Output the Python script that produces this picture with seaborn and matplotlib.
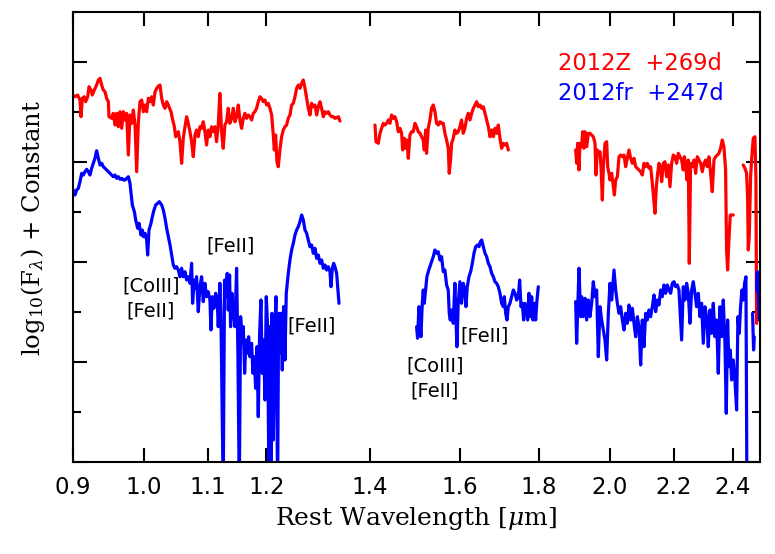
import matplotlib
matplotlib.use("Agg")
import matplotlib.pyplot as plt
import seaborn as sns
from matplotlib.ticker import FixedLocator, NullLocator, MultipleLocator

# ---------------- spectra (wavelength in micron, log flux + offset) ----------------
red1_wave = [0.900, 0.9031, 0.9066, 0.9098, 0.9112, 0.9130, 0.9157, 0.9175, 0.9203, 0.9221,
             0.9248, 0.9266, 0.9294, 0.9326, 0.9350, 0.9373, 0.9396, 0.9419, 0.9443, 0.9466,
             0.9490, 0.9499, 0.9537, 0.9560, 0.9584, 0.9608, 0.9632, 0.9656, 0.9680, 0.9704,
             0.9728, 0.9752, 0.9776, 0.9800, 0.9825, 0.9849, 0.9874, 0.9898, 0.9923, 0.9947,
             0.9972, 0.9997, 1.0022, 1.0046, 1.0071, 1.0096, 1.0121, 1.0146, 1.0172, 1.0212,
             1.0247, 1.0273, 1.0298, 1.0324, 1.0349, 1.0375, 1.0416, 1.0437, 1.0468, 1.0489,
             1.0530, 1.0556, 1.0582, 1.0608, 1.0635, 1.0661, 1.0687, 1.0714, 1.0740, 1.0767,
             1.0794, 1.0820, 1.0847, 1.0874, 1.0901, 1.0928, 1.0955, 1.0982, 1.1009, 1.1037,
             1.1064, 1.1091, 1.1119, 1.1146, 1.1174, 1.1201, 1.1229, 1.1257, 1.1285, 1.1313,
             1.1341, 1.1369, 1.1399, 1.1427, 1.1455, 1.1483, 1.1512, 1.1540, 1.1569, 1.1598,
             1.1626, 1.1655, 1.1684, 1.1713, 1.1742, 1.1771, 1.1800, 1.1830, 1.1859, 1.1888,
             1.1918, 1.1947, 1.1977, 1.2007, 1.2037, 1.2067, 1.2097, 1.2127, 1.2145, 1.2169,
             1.2193, 1.2217, 1.2247, 1.2278, 1.2308, 1.2339, 1.2369, 1.2400, 1.2431, 1.2462,
             1.2493, 1.2524, 1.2555, 1.2586, 1.2617, 1.2649, 1.2680, 1.2712, 1.2743, 1.2775,
             1.2806, 1.2838, 1.2870, 1.2902, 1.2934, 1.2966, 1.2998, 1.3030, 1.3063, 1.3095,
             1.3128, 1.3160, 1.3193, 1.3226, 1.3259, 1.3291, 1.3324, 1.3358, 1.3391]
red1_flux = [3.67, 3.653, 3.67, 3.62, 3.453, 3.637, 3.653, 3.603, 3.653, 3.753,
             3.72, 3.67, 3.72, 3.77, 3.82, 3.837, 3.77, 3.72, 3.703, 3.637,
             3.603, 3.453, 3.437, 3.487, 3.37, 3.487, 3.353, 3.503, 3.337, 3.503,
             3.42, 3.487, 3.07, 3.47, 3.387, 3.52, 3.37, 2.903, 3.403, 3.603,
             3.62, 3.503, 3.57, 3.503, 3.637, 3.603, 3.653, 3.57, 3.703, 3.753,
             3.77, 3.637, 3.57, 3.537, 3.603, 3.57, 3.503, 3.437, 3.353, 3.253,
             3.303, 3.203, 2.987, 3.237, 3.353, 3.453, 3.387, 3.303, 3.203, 3.053,
             3.27, 3.32, 3.253, 3.353, 3.337, 3.403, 3.303, 3.17, 3.32, 3.253,
             3.353, 3.303, 3.353, 3.203, 3.37, 3.687, 3.303, 3.137, 3.37, 3.403,
             3.537, 3.387, 3.437, 3.537, 3.403, 3.453, 3.57, 3.42, 3.337, 3.437,
             3.487, 3.437, 3.47, 3.453, 3.42, 3.487, 3.503, 3.537, 3.603, 3.653,
             3.637, 3.603, 3.62, 3.57, 3.587, 3.537, 3.47, 3.27, 3.12, 3.27,
             3.003, 2.953, 3.12, 3.253, 3.32, 3.353, 3.37, 3.437, 3.47, 3.57,
             3.587, 3.653, 3.737, 3.77, 3.737, 3.787, 3.82, 3.737, 3.637, 3.537,
             3.47, 3.587, 3.553, 3.57, 3.47, 3.553, 3.603, 3.537, 3.453, 3.503,
             3.487, 3.503, 3.47, 3.453, 3.453, 3.437, 3.443, 3.453, 3.41]

red2_wave = [1.4106, 1.4127, 1.4176, 1.4211, 1.4246, 1.4281, 1.4317, 1.4352, 1.4388, 1.4423,
             1.4459, 1.4495, 1.4531, 1.4567, 1.4603, 1.4640, 1.4676, 1.4698, 1.4734, 1.4764,
             1.4793, 1.4822, 1.4858, 1.4895, 1.4932, 1.4969, 1.5006, 1.5043, 1.5081, 1.5118,
             1.5155, 1.5178, 1.5208, 1.5230, 1.5268, 1.5306, 1.5344, 1.5382, 1.5421, 1.5459,
             1.5497, 1.5536, 1.5574, 1.5613, 1.5651, 1.5690, 1.5729, 1.5752, 1.5783, 1.5807,
             1.5846, 1.5885, 1.5925, 1.5964, 1.6004, 1.6043, 1.6083, 1.6123, 1.6164, 1.6205,
             1.6245, 1.6286, 1.6326, 1.6367, 1.6407, 1.6448, 1.6489, 1.6530, 1.6571, 1.6612,
             1.6653, 1.6694, 1.6736, 1.6777, 1.6819, 1.6860, 1.6902, 1.6944, 1.6986, 1.7028,
             1.7070, 1.7113, 1.7155, 1.7198]
red2_flux = [3.37, 3.203, 3.187, 3.287, 3.337, 3.387, 3.37, 3.387, 3.42, 3.387,
             3.47, 3.437, 3.453, 3.403, 3.303, 3.337, 3.287, 3.12, 3.237, 3.137,
             3.22, 3.037, 3.27, 3.303, 3.303, 3.387, 3.353, 3.303, 3.287, 3.253,
             3.22, 3.12, 3.32, 3.087, 3.337, 3.42, 3.537, 3.57, 3.503, 3.387,
             3.37, 3.403, 3.387, 3.387, 3.287, 3.22, 3.137, 2.887, 3.02, 3.187,
             3.237, 3.32, 3.287, 3.303, 3.353, 3.42, 3.287, 3.337, 3.437, 3.487,
             3.42, 3.487, 3.537, 3.57, 3.603, 3.553, 3.57, 3.537, 3.553, 3.487,
             3.42, 3.353, 3.253, 3.32, 3.253, 3.337, 3.287, 3.37, 3.237, 3.137,
             3.187, 3.17, 3.187, 3.12]

red3_wave = [1.9009, 1.9037, 1.9065, 1.9103, 1.9131, 1.9179, 1.9207, 1.9245, 1.9274, 1.9322,
             1.9370, 1.9418, 1.9466, 1.9514, 1.9563, 1.9592, 1.9631, 1.9660, 1.9709, 1.9738,
             1.9778, 1.9807, 1.9856, 1.9905, 1.9935, 1.9975, 2.0004, 2.0054, 2.0104, 2.0134,
             2.0174, 2.0224, 2.0274, 2.0324, 2.0374, 2.0425, 2.0475, 2.0526, 2.0578, 2.0628,
             2.0680, 2.0731, 2.0782, 2.0834, 2.0886, 2.0937, 2.0989, 2.1041, 2.1093, 2.1145,
             2.1198, 2.1250, 2.1303, 2.1345, 2.1388, 2.1430, 2.1473, 2.1515, 2.1558, 2.1601,
             2.1654, 2.1708, 2.1762, 2.1816, 2.1870, 2.1924, 2.1978, 2.2033, 2.2087, 2.2142,
             2.2197, 2.2252, 2.2307, 2.2340, 2.2384, 2.2429, 2.2473, 2.2507, 2.2551, 2.2607,
             2.2663, 2.2720, 2.2776, 2.2833, 2.2889, 2.2946, 2.3003, 2.3060, 2.3117, 2.3174,
             2.3232, 2.3289, 2.3347, 2.3405, 2.3463, 2.3521, 2.3579, 2.3638, 2.3696, 2.3755,
             2.3790, 2.3826, 2.3873, 2.3920, 2.3968, 2.4027]
red3_flux = [3.12, 2.987, 3.187, 2.92, 3.187, 3.153, 3.303, 3.137, 3.303, 3.153,
             3.287, 3.287, 3.27, 3.253, 3.187, 2.87, 3.12, 3.087, 3.103, 2.953,
             2.62, 2.953, 3.187, 3.203, 2.953, 2.887, 2.82, 2.887, 2.753, 2.67,
             2.82, 2.853, 3.053, 3.07, 3.053, 3.07, 2.953, 3.037, 3.12, 3.037,
             2.987, 3.037, 2.953, 2.937, 2.92, 2.903, 2.87, 2.987, 2.953, 2.987,
             2.937, 2.953, 2.787, 2.637, 2.487, 2.753, 2.887, 2.987, 2.953, 2.803,
             2.987, 3.003, 2.853, 2.97, 2.753, 2.987, 3.07, 3.053, 2.987, 3.087,
             3.053, 3.02, 2.92, 3.053, 2.987, 2.82, 3.02, 1.987, 2.987, 2.953,
             3.02, 2.887, 3.053, 3.02, 2.987, 2.903, 2.987, 3.02, 2.953, 3.053,
             2.887, 2.703, 3.02, 3.053, 3.07, 3.087, 3.137, 3.22, 3.153, 2.92,
             2.12, 1.92, 2.22, 2.47, 2.47, 2.47]

red4_wave = [2.4387, 2.4447, 2.4508, 2.4544, 2.4569, 2.4605, 2.4654, 2.4691, 2.4752, 2.4813,
             2.4850, 2.4875]
red4_flux = [2.97, 2.937, 2.887, 2.653, 2.12, 2.253, 2.853, 3.02, 3.237, 3.253,
             2.853, 1.387]

blue1_wave = [0.900, 0.9008, 0.9031, 0.9053, 0.9076, 0.9098, 0.9121, 0.9143, 0.9166, 0.9189,
              0.9212, 0.9234, 0.9257, 0.9280, 0.9303, 0.9326, 0.9350, 0.9373, 0.9396, 0.9419,
              0.9443, 0.9466, 0.9490, 0.9513, 0.9537, 0.9560, 0.9584, 0.9608, 0.9632, 0.9656,
              0.9680, 0.9704, 0.9728, 0.9752, 0.9776, 0.9800, 0.9815, 0.9834, 0.9864, 0.9884,
              0.9913, 0.9933, 0.9962, 0.9982, 0.9997, 1.0022, 1.0046, 1.0061, 1.0081, 1.0111,
              1.0131, 1.0156, 1.0182, 1.0212, 1.0237, 1.0273, 1.0298, 1.0324, 1.0349, 1.0375,
              1.0401, 1.0426, 1.0452, 1.0478, 1.0504, 1.0530, 1.0556, 1.0582, 1.0608, 1.0635,
              1.0661, 1.0687, 1.0714, 1.0740, 1.0756, 1.0783, 1.0804, 1.0820, 1.0847, 1.0874,
              1.0901, 1.0928, 1.0955, 1.0982, 1.1009, 1.1037, 1.1053, 1.1075, 1.1102, 1.1130,
              1.1157, 1.1174, 1.1201, 1.1218, 1.1257, 1.1279, 1.1302, 1.1324, 1.1341, 1.1364,
              1.1381, 1.1404, 1.1427, 1.1455, 1.1483, 1.1506, 1.1529, 1.1552, 1.1575, 1.1598,
              1.1621, 1.1644, 1.1667, 1.1690, 1.1713, 1.1742, 1.1765, 1.1789, 1.1812, 1.1836,
              1.1859, 1.1883, 1.1906, 1.1930, 1.1953, 1.1977, 1.2001, 1.2025, 1.2049, 1.2067,
              1.2085, 1.2103, 1.2127, 1.2151, 1.2175, 1.2205, 1.2223, 1.2247, 1.2266, 1.2290,
              1.2314, 1.2339, 1.2363, 1.2400, 1.2431, 1.2462, 1.2493, 1.2524, 1.2555, 1.2586,
              1.2617, 1.2649, 1.2680, 1.2712, 1.2743, 1.2775, 1.2806, 1.2838, 1.2870, 1.2902,
              1.2934, 1.2966, 1.2998, 1.3030, 1.3063, 1.3095, 1.3128, 1.3160, 1.3193, 1.3213,
              1.3239, 1.3265, 1.3291, 1.3324, 1.3344, 1.3371]
blue1_flux = [2.687, 2.72, 2.67, 2.72, 2.737, 2.803, 2.887, 2.87, 2.903, 2.927,
              2.903, 2.87, 2.937, 2.987, 3.037, 3.113, 3.037, 2.97, 2.987, 2.953,
              2.937, 2.92, 2.903, 2.887, 2.87, 2.853, 2.87, 2.837, 2.853, 2.827,
              2.837, 2.82, 2.82, 2.837, 2.853, 2.787, 2.687, 2.57, 2.503, 2.42,
              2.337, 2.387, 2.27, 2.32, 2.253, 2.287, 2.22, 2.07, 2.32, 2.387,
              2.453, 2.52, 2.57, 2.587, 2.603, 2.57, 2.52, 2.437, 2.337, 2.253,
              2.17, 2.07, 1.97, 1.937, 1.953, 1.92, 1.853, 1.937, 1.853, 1.903,
              1.82, 1.853, 1.787, 1.987, 1.587, 1.82, 1.737, 1.853, 1.503, 1.753,
              1.853, 1.603, 1.787, 1.653, 1.703, 1.62, 1.32, 1.653, 1.537, 1.687,
              1.62, 1.353, 1.787, 1.487, -0.3, 1.82, 1.653, 1.887, 1.52, 1.87,
              1.353, 1.687, 1.52, 1.353, 1.937, 1.053, -0.3, 1.453, 1.187, 1.353,
              0.887, 1.22, 1.087, 1.253, 1.053, 1.187, 0.887, 1.053, 0.737, 1.153,
              0.453, 1.287, 1.62, 0.887, 1.22, 0.62, 1.653, 1.353, -0.3, 1.353,
              -0.3, 1.487, 0.22, 1.22, 1.653, -0.3, 1.487, 1.087, 1.487, 0.92,
              1.553, 1.02, 1.687, 1.887, 2.02, 2.12, 2.187, 2.27, 2.32, 2.353,
              2.403, 2.47, 2.42, 2.32, 2.287, 2.22, 2.153, 2.17, 2.087, 2.137,
              2.037, 2.07, 1.987, 2.02, 1.937, 1.97, 1.92, 1.953, 1.903, 1.753,
              1.937, 1.987, 1.953, 1.887, 1.753, 1.587]

blue2_wave = [1.5006, 1.5028, 1.5058, 1.5081, 1.5103, 1.5133, 1.5155, 1.5178, 1.5208, 1.5238,
              1.5268, 1.5306, 1.5344, 1.5382, 1.5421, 1.5459, 1.5497, 1.5536, 1.5574, 1.5613,
              1.5651, 1.5690, 1.5729, 1.5752, 1.5776, 1.5807, 1.5846, 1.5885, 1.5909, 1.5933,
              1.5964, 1.6004, 1.6043, 1.6083, 1.6123, 1.6148, 1.6180, 1.6221, 1.6261, 1.6302,
              1.6342, 1.6383, 1.6424, 1.6465, 1.6497, 1.6530, 1.6571, 1.6612, 1.6653, 1.6694,
              1.6736, 1.6777, 1.6819, 1.6860, 1.6902, 1.6944, 1.6986, 1.7028, 1.7070, 1.7096,
              1.7130, 1.7164, 1.7198, 1.7240, 1.7283, 1.7326, 1.7369, 1.7412, 1.7455, 1.7490,
              1.7525, 1.7559, 1.7594, 1.7629, 1.7664, 1.7699, 1.7734, 1.7770, 1.7805, 1.7840,
              1.7876, 1.7911, 1.7947, 1.7982]
blue2_flux = [1.353, 1.237, 1.553, 1.387, 1.253, 1.587, 1.72, 1.587, 1.72, 1.853,
              1.903, 1.953, 2.003, 2.053, 2.12, 2.087, 2.103, 2.02, 2.053, 1.903,
              1.92, 1.77, 1.72, 1.487, 1.42, 1.52, 1.387, 1.787, 1.453, 1.153,
              1.587, 1.803, 1.587, 1.787, 1.72, 1.553, 1.753, 1.853, 1.903, 1.987,
              2.087, 2.153, 2.17, 2.153, 2.203, 2.22, 2.153, 2.087, 2.053, 1.987,
              1.953, 1.887, 1.853, 1.803, 1.787, 1.753, 1.687, 1.587, 1.553, 1.653,
              1.487, 1.42, 1.553, 1.587, 1.653, 1.72, 1.687, 1.62, 1.653, 1.82,
              1.553, 1.587, 1.42, 1.587, 1.553, 1.42, 1.687, 1.453, 1.653, 1.42,
              1.587, 1.42, 1.62, 1.753]

blue3_wave = [1.9009, 1.9037, 1.9103, 1.9150, 1.9179, 1.9226, 1.9274, 1.9322, 1.9370, 1.9418,
              1.9466, 1.9514, 1.9563, 1.9611, 1.9660, 1.9709, 1.9758, 1.9807, 1.9856, 1.9905,
              1.9955, 2.0004, 2.0054, 2.0124, 2.0174, 2.0224, 2.0274, 2.0324, 2.0374, 2.0425,
              2.0475, 2.0526, 2.0578, 2.0628, 2.0680, 2.0731, 2.0782, 2.0834, 2.0886, 2.0937,
              2.0989, 2.1041, 2.1093, 2.1145, 2.1198, 2.1250, 2.1303, 2.1356, 2.1409, 2.1462,
              2.1515, 2.1569, 2.1622, 2.1676, 2.1730, 2.1784, 2.1838, 2.1892, 2.1946, 2.2001,
              2.2055, 2.2110, 2.2164, 2.2252, 2.2307, 2.2362, 2.2418, 2.2473, 2.2529, 2.2585,
              2.2641, 2.2697, 2.2753, 2.2810, 2.2866, 2.2923, 2.2980, 2.3037, 2.3094, 2.3151,
              2.3209, 2.3266, 2.3324, 2.3382, 2.3440, 2.3498, 2.3556, 2.3614, 2.3673, 2.3732,
              2.3779, 2.3826, 2.3873, 2.3920, 2.3968, 2.4027, 2.4087, 2.4147, 2.4194, 2.4242,
              2.4290, 2.4339, 2.4387, 2.4435, 2.4484, 2.4520]
blue3_flux = [1.603, 1.187, 1.937, 1.453, 1.653, 1.453, 1.637, 1.42, 1.62, 1.453,
              1.587, 1.803, 1.653, 1.72, 1.053, 1.553, 1.42, 1.32, 1.22, 1.02,
              1.487, 1.787, 1.62, 1.92, 1.72, 1.587, 1.487, 1.553, 1.42, 1.32,
              1.487, 1.387, 1.57, 1.42, 1.537, 1.387, 1.253, 1.453, 1.353, 0.97,
              1.42, 1.153, 1.487, 1.42, 1.52, 1.453, 1.553, 1.67, 1.503, 1.62,
              1.57, 1.72, 1.653, 1.77, 1.687, 1.77, 1.72, 1.687, 1.787, 1.803,
              1.753, 1.77, 1.72, 1.22, 1.753, 1.62, 1.787, 1.687, 1.387, 1.72,
              1.803, 1.687, 1.553, 1.687, 1.453, 1.587, 1.187, 1.553, 1.453, 1.153,
              1.52, 1.287, 1.587, 1.253, 1.42, 0.887, 1.553, 1.253, 1.62, 1.187,
              0.487, 1.42, 0.953, 1.12, 0.82, 1.02, 0.82, 0.52, 1.453, 1.287,
              1.553, 1.72, 1.62, 1.787, 1.853, -0.3]

blue4_wave = [2.4727, 2.4764, 2.4789]
blue4_flux = [1.487, 1.12, 1.25]
blue5_wave = [2.4875, 2.4899, 2.4937, 2.4974]
blue5_flux = [1.72, 1.903, 1.65, 1.42]

tick_vals = [0.9, 1.0, 1.1, 1.2, 1.4, 1.6, 1.8, 2.0, 2.2, 2.4]
tick_labels = ['0.9', '1.0', '1.1', '1.2', '1.4', '1.6', '1.8', '2.0', '2.2', '2.4']

# line identifications: (label, wavelength, level)
line_ids = [('[CoIII]', 1.0107, 1.76), ('[FeII]', 1.0107, 1.51), ('[FeII]', 1.1386, 2.16),
            ('[FeII]', 1.2844, 1.36), ('[FeII]', 1.661, 1.26),
            ('[CoIII]', 1.542, 0.96), ('[FeII]', 1.542, 0.71)]

# ---------------- plotting ----------------
sns.set_style("ticks")
plt.rcParams['font.family'] = ['DejaVu Sans']
plt.rcParams['mathtext.fontset'] = 'dejavuserif'
plt.rcParams['text.color'] = 'black'
plt.rcParams['axes.labelcolor'] = 'black'
plt.rcParams['xtick.color'] = 'black'
plt.rcParams['ytick.color'] = 'black'

fig = plt.figure(figsize=(7.75, 5.54), dpi=100)
ax = fig.add_axes([0.0938, 0.1661, 0.8868, 0.8122])

red = '#ff0000'
blue = '#0000ff'
segs = [(red1_wave, red1_flux, red), (red2_wave, red2_flux, red),
        (red3_wave, red3_flux, red), (red4_wave, red4_flux, red),
        (blue1_wave, blue1_flux, blue), (blue2_wave, blue2_flux, blue),
        (blue3_wave, blue3_flux, blue), (blue4_wave, blue4_flux, blue),
        (blue5_wave, blue5_flux, blue)]
for w, f, c in segs:
    sns.lineplot(x=w, y=f, ax=ax, color=c, lw=2.3, estimator=None, sort=False)

ax.set_xscale('log')
ax.set_xlim(0.9, 2.5)
ax.set_ylim(0, 4.5)
ax.xaxis.set_major_locator(FixedLocator(tick_vals))
ax.xaxis.set_minor_locator(NullLocator())
ax.set_xticklabels(tick_labels)
ax.yaxis.set_major_locator(MultipleLocator(1))
ax.yaxis.set_minor_locator(MultipleLocator(0.5))

ax.tick_params(axis='both', which='both', direction='in', top=True, right=True,
               width=1.5, color='black')
ax.tick_params(axis='both', which='major', length=10)
ax.tick_params(axis='y', which='minor', length=5.5)
ax.tick_params(axis='x', which='major', labelsize=16.5, pad=10, labelcolor='black')
ax.tick_params(axis='y', labelleft=False)
for s in ax.spines.values():
    s.set_linewidth(1.5)
    s.set_color('black')

ax.set_xlabel(r'Rest Wavelength [$\mu$m]', family='DejaVu Serif', fontsize=18, color='black')
ax.set_ylabel(r'log$_{10}$(F$_\lambda$) + Constant', family='DejaVu Serif', fontsize=17.5,
              color='black')
ax.xaxis.set_label_coords(0.5, -0.095)
ax.yaxis.set_label_coords(-0.038, 0.52)

for txt, w, lev in line_ids:
    ax.text(w, lev, txt, fontsize=14, ha='center', va='center', color='black')

ax.text(1.852, 3.99, '2012Z  +269d', color=red, fontsize=16.3, ha='left', va='center')
ax.text(1.852, 3.69, '2012fr  +247d', color=blue, fontsize=16.3, ha='left', va='center')

fig.savefig('out.png', dpi=100)
